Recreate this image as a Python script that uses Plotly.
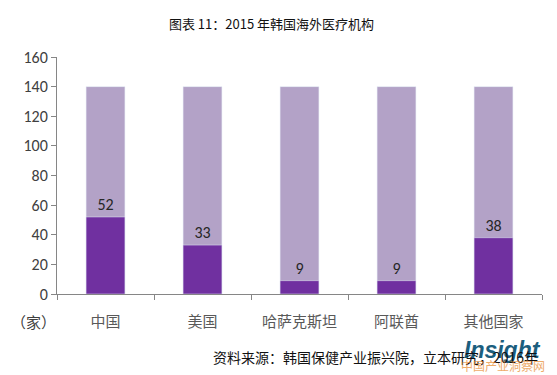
import plotly.graph_objects as go

categories = ["中国", "美国", "哈萨克斯坦", "阿联酋", "其他国家"]
values = [52, 33, 9, 9, 38]
background = [140, 140, 140, 140, 140]
y_ticks = [0, 20, 40, 60, 80, 100, 120, 140, 160]

fig = go.Figure()
fig.add_trace(go.Bar(x=categories, y=background, marker_color="#B3A2C7",
                     width=0.4, hoverinfo="skip", showlegend=False))
fig.add_trace(go.Bar(x=categories, y=values, marker_color="#7030A0",
                     width=0.4, text=[str(v) for v in values],
                     textposition="outside", cliponaxis=False,
                     textfont=dict(family="Carlito, Liberation Sans, Arial", size=16, color="#262626"),
                     showlegend=False))

# page body has an 8px margin, so the figure is sized to fit the visible window
fig.update_layout(
    barmode="overlay",
    width=549, height=367,
    margin=dict(l=49, r=15, t=49, b=81),
    paper_bgcolor="white", plot_bgcolor="white",
    title=dict(text="图表 11：2015 年韩国海外医疗机构", x=0.48, xanchor="center",
               y=0.956, yanchor="middle",
               font=dict(family="Noto Sans CJK SC", size=13, color="#111111")),
    font=dict(family="Noto Sans CJK SC"),
)
fig.update_yaxes(range=[0, 160], tickvals=y_ticks, showgrid=False, zeroline=False,
                 automargin=False,
                 showline=True, linecolor="#868686", linewidth=1,
                 ticks="outside", ticklen=5, tickcolor="#868686",
                 tickfont=dict(family="Carlito, Liberation Sans, Arial", size=16, color="#404040"))
fig.update_xaxes(showline=True, linecolor="#868686", linewidth=1, automargin=False,
                 ticks="outside", ticklen=5, tickcolor="#868686", tickson="boundaries",
                 ticklabelstandoff=14,
                 tickfont=dict(family="Noto Sans CJK SC", size=15, color="#595959"))

fig.add_annotation(text="（家）", xref="paper", yref="paper", x=-0.1, y=-0.118,
                   xanchor="left", yanchor="middle", showarrow=False,
                   font=dict(family="Noto Sans CJK SC", size=15, color="#404040"))
fig.add_annotation(text="<b><i>Insight</i></b>", xref="paper", yref="paper",
                   x=1.002, y=-0.236, xanchor="right", yanchor="middle", showarrow=False,
                   font=dict(family="Liberation Sans", size=23, color="#1B5E7E"))
fig.add_annotation(text="资料来源：韩国保健产业振兴院，立本研究，2016年", xref="paper", yref="paper",
                   x=0.996, y=-0.266, xanchor="right", yanchor="middle", showarrow=False,
                   font=dict(family="Noto Sans CJK SC", size=14, color="#111111"))
fig.add_annotation(text="中国产业洞察网", xref="paper", yref="paper",
                   x=1.01, y=-0.30, xanchor="right", yanchor="middle", showarrow=False,
                   opacity=0.7,
                   font=dict(family="Noto Sans CJK SC", size=12, color="#E8892B"))

fig.write_html("out.html")
